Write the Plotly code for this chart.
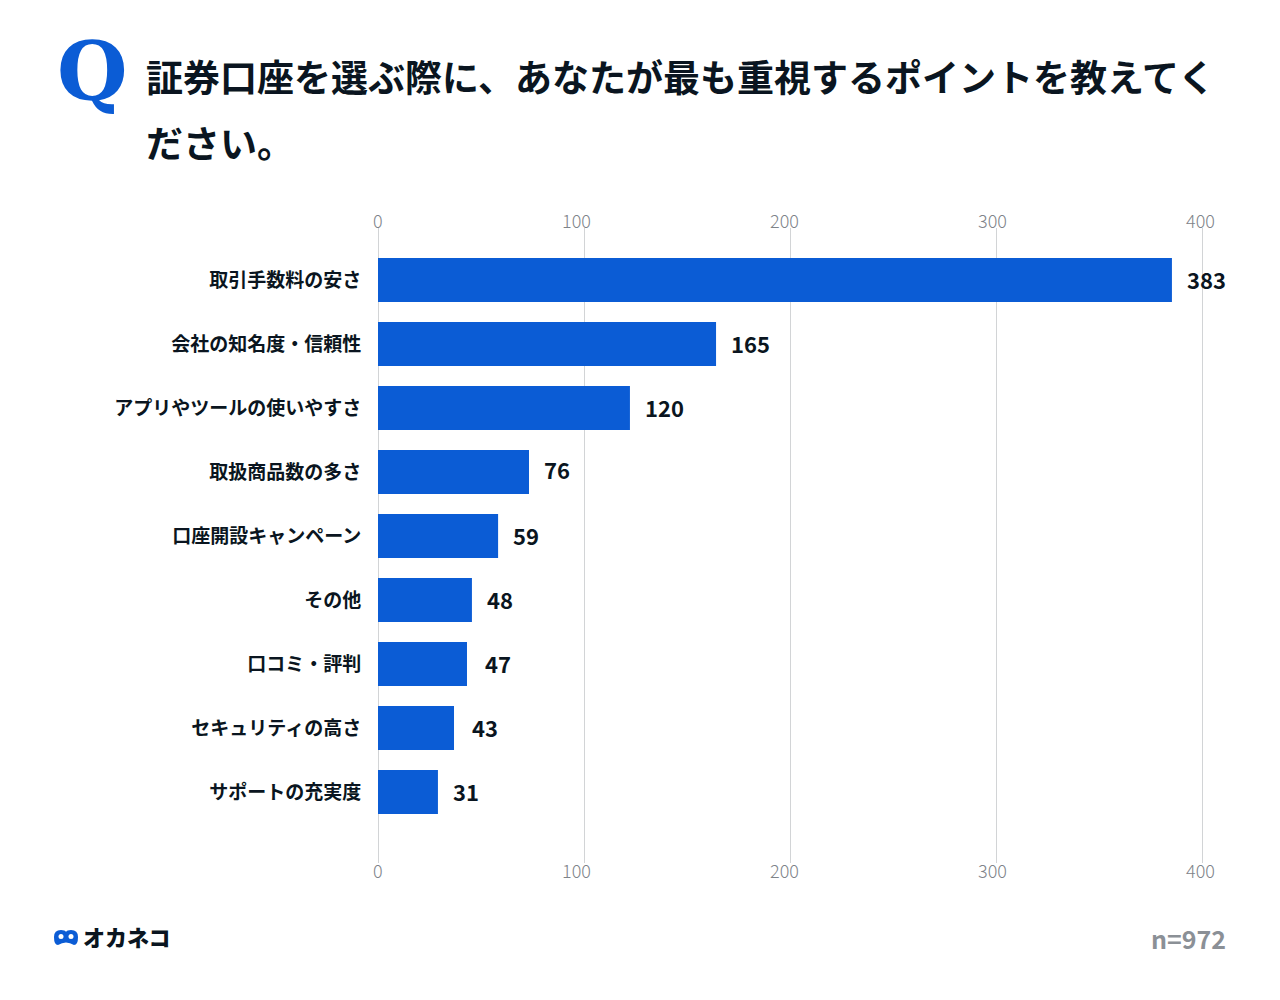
import plotly.graph_objects as go

categories = ['取引手数料の安さ', '会社の知名度・信頼性', 'アプリやツールの使いやすさ', '取扱商品数の多さ',
              '口座開設キャンペーン', 'その他', '口コミ・評判', 'セキュリティの高さ', 'サポートの充実度']
# printed numbers, these do not quite agree with the drawn bar lengths in the source
value_labels = [383, 165, 120, 76, 59, 48, 47, 43, 31]
# bar lengths as read against the gridlines
bar_lengths = [385.4, 164.1, 122.3, 73.3, 58.3, 45.6, 43.2, 36.9, 29.1]
tick_vals = [0, 100, 200, 300, 400]

title_lines = ['証券口座を選ぶ際に、あなたが最も重視するポイントを教えてく', 'ださい。']
sample_note = 'n=972'
brand = 'オカネコ'

JP = 'Noto Sans CJK JP'
BLUE = '#0b5cd5'
INK = '#0a1520'
GREY = '#8b9096'
AXIS_GREY = '#7e8389'

# plot area in page pixels, a bit wider than 0-400 so both end gridlines get drawn
L, R, T, B = 376, 1204, 228, 863


def px(x):
    return (x - L) / (R - L)


def py(y):
    return (B - y) / (B - T)


def pt(x, y):
    return '%f,%f' % (px(x), py(y))


def note(x, y, text, size, color, anchor='left', family=JP, weight='bold'):
    return dict(x=px(x), y=py(y), xref='paper', yref='paper', text=text,
                showarrow=False, xanchor=anchor, yanchor='middle',
                font=dict(family=family, size=size, color=color, weight=weight))


fig = go.Figure(go.Bar(x=bar_lengths, y=categories, orientation='h', marker=dict(color=BLUE, line_width=0)))

notes = [
    note(55, 71, 'Q', 81, BLUE, family='DejaVu Serif'),
    note(144, 75.5, title_lines[0], 37, INK),
    note(144, 142, title_lines[1], 37, INK),
    note(81, 936, brand, 22, INK, weight=900),
    note(1228, 938, sample_note, 25, GREY, anchor='right'),
]

# value labels sit just past the end of each bar
gaps = [13, 13, 13, 13, 13, 13, 16, 16, 13]
lifts = [1, 1, 1, 3, 1, 1, 1, 1, 1]
for cat, length, label, gap, lift in zip(categories, bar_lengths, value_labels, gaps, lifts):
    notes.append(dict(x=length, y=cat, xref='x', yref='y', text=str(label), showarrow=False,
                      xanchor='left', yanchor='middle', xshift=gap, yshift=lift,
                      font=dict(family=JP, size=22, color=INK, weight='bold')))

# axis numbers are not centred on the gridlines in the source
label_shift = [0, -8, -6, -4, -2]
for val, shift in zip(tick_vals, label_shift):
    for y in (220, 870):
        notes.append(dict(x=val, xref='x', y=py(y), yref='paper', text=str(val), showarrow=False,
                          xanchor='center', yanchor='middle', xshift=shift,
                          font=dict(family=JP, size=18, color=AXIS_GREY, weight=300)))

# logo mark
logo_path = ('M ' + pt(54, 937) + ' Q ' + pt(54, 930) + ' ' + pt(61, 930) + ' Q ' + pt(65, 930) + ' ' + pt(66, 932)
             + ' Q ' + pt(67, 930) + ' ' + pt(71, 930) + ' Q ' + pt(78, 930) + ' ' + pt(78, 937)
             + ' Q ' + pt(78, 945) + ' ' + pt(74, 945) + ' Q ' + pt(66, 940) + ' ' + pt(58, 945)
             + ' Q ' + pt(54, 945) + ' ' + pt(54, 937) + ' Z')
shapes = [
    dict(type='path', xref='paper', yref='paper', line_width=0, fillcolor=BLUE, path=logo_path),
    dict(type='circle', xref='paper', yref='paper', line_width=0, fillcolor='white',
         x0=px(58.5), x1=px(63.5), y0=py(939), y1=py(934)),
    dict(type='circle', xref='paper', yref='paper', line_width=0, fillcolor='white',
         x0=px(68.5), x1=px(73.5), y0=py(939), y1=py(934)),
]

fig.update_layout(
    width=1280, height=1000, autosize=False,
    margin=dict(l=L, r=1280 - R, t=T, b=1000 - B, pad=0),
    paper_bgcolor='white', plot_bgcolor='white',
    showlegend=False, bargap=0.3125,
    annotations=notes, shapes=shapes,
    xaxis=dict(range=[-0.97, 400.97], tickvals=tick_vals, showticklabels=False, showgrid=True,
               gridcolor='#d2d4d6', gridwidth=1, zeroline=False, showline=False),
    yaxis=dict(range=[9.11, -0.8125], type='category', categoryorder='array', categoryarray=categories,
               ticks='outside', ticklen=10, tickcolor='white', showgrid=False, zeroline=False, showline=False,
               tickfont=dict(family=JP, size=19, color=INK, weight='bold')),
)

fig.write_html('out.html', config={'displayModeBar': False}, post_script="document.body.style.margin='0';")
